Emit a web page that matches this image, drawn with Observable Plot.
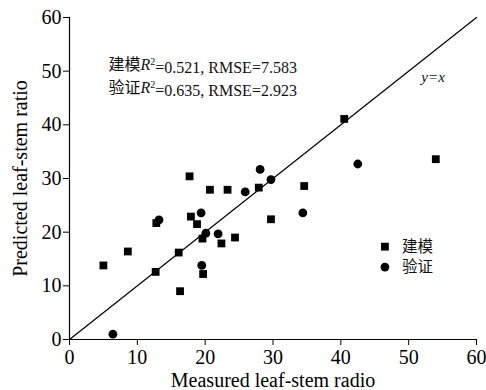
<!DOCTYPE html>
<html>
<head>
<meta charset="utf-8">
<script src="https://cdn.jsdelivr.net/npm/d3@7"></script>
<script src="https://cdn.jsdelivr.net/npm/@observablehq/plot@0.6"></script>
<style>
  html, body { margin: 0; padding: 0; background: #fff; }
  #chart { width: 486px; height: 390px; }
</style>
</head>
<body>
<div id="chart"></div>
<script>
// ---- data ----
const xTicks = [0, 10, 20, 30, 40, 50, 60];
const yTicks = [0, 10, 20, 30, 40, 50, 60];

// 建模 (modelling) set – squares
const modelMeasured  = [40.5, 54.0, 17.7, 20.7, 23.3, 27.9, 34.6, 29.7, 12.8, 17.9, 18.8, 19.6, 22.4, 24.4, 8.6, 16.1, 5.0, 12.7, 19.7, 16.3];
const modelPredicted = [41.1, 33.6, 30.4, 27.9, 27.9, 28.3, 28.6, 22.4, 21.7, 22.9, 21.5, 18.8, 17.9, 19.0, 16.4, 16.2, 13.8, 12.6, 12.2, 9.0];

// 验证 (validation) set – circles
const validMeasured  = [42.5, 28.1, 29.7, 25.9, 34.4, 19.4, 13.2, 20.1, 21.9, 19.5, 6.4];
const validPredicted = [32.7, 31.7, 29.8, 27.5, 23.6, 23.6, 22.3, 19.8, 19.7, 13.8, 1.0];

const seriesNames = ["建模", "验证"];
const statLines = ["建模R²=0.521, RMSE=7.583", "验证R²=0.635, RMSE=2.923"];
const identityLabel = "y=x";
const identityRange = [0, 60];
const xLabel = "Measured leaf-stem radio";
const yLabel = "Predicted leaf-stem ratio";

// ---- tables built from arrays ----
const model = modelMeasured.map((m, i) => ({x: m, y: modelPredicted[i]}));
const valid = validMeasured.map((m, i) => ({x: m, y: validPredicted[i]}));

// annotation anchors (data units)
const statAnchor = {x: 5.75, y: [51.2, 46.8]};
const identityAnchor = {x: 53.6, y: 48.9};
const legendAnchor = {x: 46.5, tx: 49.0, y: [17.3, 13.5]};

const serif = "'Liberation Serif', 'Times New Roman', 'Noto Sans CJK SC', serif";

const chart = Plot.plot({
  width: 486,
  height: 390,
  marginTop: 17,
  marginRight: 10,
  marginBottom: 51,
  marginLeft: 69,
  style: {fontFamily: serif, fontSize: "20px", background: "#fff", color: "#000", overflow: "visible"},
  x: {domain: [0, 60]},
  y: {domain: [0, 60]},
  marks: [
    Plot.axisX({ticks: xTicks, tickSize: 6, tickPadding: 4, tickFormat: d => String(d), fontSize: 20,
      label: xLabel, labelAnchor: "center", labelArrow: "none", labelOffset: 47}),
    Plot.axisY({ticks: yTicks, tickSize: 6, tickPadding: 2, tickFormat: d => String(d), fontSize: 20,
      label: yLabel, labelAnchor: "center", labelArrow: "none", labelOffset: 57}),
    Plot.ruleX([0], {stroke: "#000", strokeWidth: 1.2}),
    Plot.ruleY([0], {stroke: "#000", strokeWidth: 1.2}),
    Plot.line(identityRange, {x: d => d, y: d => d, stroke: "#000", strokeWidth: 1.2}),
    Plot.dot(model, {x: "x", y: "y", symbol: "square", r: 4.4, fill: "#000", stroke: "none"}),
    Plot.dot(valid, {x: "x", y: "y", symbol: "circle", r: 4.4, fill: "#000", stroke: "none"}),
    Plot.text(statLines, {x: () => statAnchor.x, y: (d, i) => statAnchor.y[i], text: d => d,
      textAnchor: "start", fontSize: 16, fill: "#111", className: "stat"}),
    Plot.text([identityLabel], {x: () => identityAnchor.x, y: () => identityAnchor.y, text: d => d,
      fontStyle: "italic", fontSize: 15, fill: "#111"}),
    Plot.dot(seriesNames, {x: () => legendAnchor.x, y: (d, i) => legendAnchor.y[i],
      symbol: (d, i) => (i === 0 ? "square" : "circle"), r: 4.4, fill: "#000", stroke: "none"}),
    Plot.text(seriesNames, {x: () => legendAnchor.tx, y: (d, i) => legendAnchor.y[i], text: d => d,
      textAnchor: "start", fontSize: 15.5, fill: "#111"})
  ]
});

document.getElementById("chart").appendChild(chart);

// italic R with superscript 2 in the statistics text
d3.select(chart).selectAll("g.stat text").each(function() {
  const t = this.textContent;
  const k = t.indexOf("R²");
  if (k < 0) return;
  const sel = d3.select(this);
  sel.text("");
  sel.append("tspan").text(t.slice(0, k));
  sel.append("tspan").attr("font-style", "italic").text("R");
  sel.append("tspan").attr("font-size", 10).attr("dy", "-0.5em").text("2");
  sel.append("tspan").attr("dy", "0.5em").text(t.slice(k + 2));
});
</script>
</body>
</html>
